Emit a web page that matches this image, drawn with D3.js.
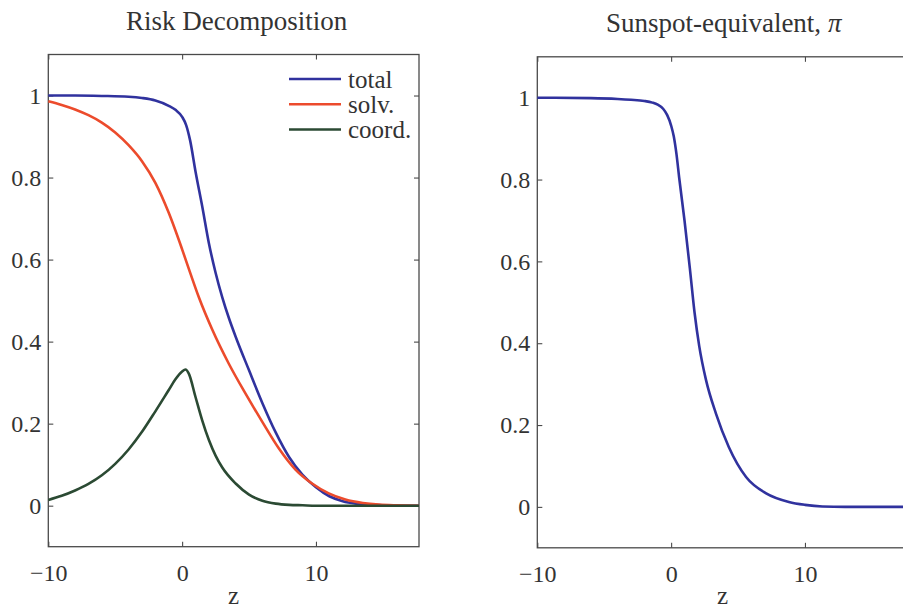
<!DOCTYPE html>
<html>
<head>
<meta charset="utf-8">
<script src="https://cdn.jsdelivr.net/npm/d3@7"></script>
<style>
  html, body { margin: 0; padding: 0; background: #fff; }
  svg { display: block; }
  text { font-family: "Liberation Serif", "Times New Roman", serif; fill: #333; }
</style>
</head>
<body>
<svg id="chart" width="903" height="608"></svg>
<script>
// ---------------- data ----------------
const zTotal = [-10, -8, -6, -4, -3, -2, -1, -0.5, 0, 0.3, 0.6, 1.0, 1.5, 2.0, 2.5, 3.0, 3.5, 4.0, 5.0, 6.0, 7.0, 8.0, 9.0, 10.0, 11.0, 12.0, 13.0, 14.0, 15.0, 16.0, 17.7];
const total  = [1.000, 1.000, 0.999, 0.997, 0.994, 0.988, 0.975, 0.965, 0.948, 0.928, 0.890, 0.815, 0.730, 0.640, 0.568, 0.508, 0.457, 0.412, 0.330, 0.250, 0.178, 0.118, 0.075, 0.045, 0.023, 0.011, 0.005, 0.002, 0.001, 0.000, 0.000];

const zSolv = [-10, -9, -8, -7, -6, -5, -4, -3, -2, -1, 0, 0.63, 1.25, 2.24, 3.49, 4.74, 5.98, 7.22, 8.47, 9.71, 10.96, 12.2, 13.5, 14.7, 16.0, 17.7];
const solv  = [0.986, 0.977, 0.966, 0.952, 0.934, 0.910, 0.879, 0.840, 0.787, 0.714, 0.625, 0.565, 0.508, 0.430, 0.346, 0.273, 0.205, 0.140, 0.088, 0.054, 0.030, 0.015, 0.0065, 0.0025, 0.0008, 0.000];

const zCoord = [-10, -9, -8, -7, -6, -5, -4, -3, -2, -1, -0.5, 0, 0.25, 0.5, 1.0, 1.5, 2.0, 2.5, 3.0, 4.0, 5.0, 6.0, 7.0, 8.0, 9.0, 10.0, 12.0, 17.7];
const coord  = [0.014, 0.024, 0.037, 0.053, 0.074, 0.102, 0.137, 0.180, 0.230, 0.282, 0.308, 0.327, 0.332, 0.322, 0.265, 0.208, 0.160, 0.122, 0.093, 0.054, 0.027, 0.012, 0.005, 0.002, 0.001, 0.000, 0.000, 0.000];

const zPi = [-10, -6, -4, -3, -2, -1.4, -1, -0.6, -0.3, 0, 0.2, 0.4, 0.6, 1.0, 1.4, 1.75, 2.1, 2.6, 3.35, 4.3, 5.6, 7.1, 8.8, 10, 11.3, 13, 17.7];
const pi  = [1.000, 0.999, 0.997, 0.995, 0.992, 0.988, 0.983, 0.973, 0.958, 0.932, 0.905, 0.862, 0.805, 0.700, 0.583, 0.475, 0.393, 0.311, 0.228, 0.147, 0.073, 0.033, 0.012, 0.005, 0.001, 0.000, 0.000];

const seriesNames = ["total", "solv.", "coord."];
const seriesColors = ["#30329e", "#ec4b2c", "#2b4a33"];

const xTickValues = [-10, 0, 10];
const xTickLabels = ["\u221210", "0", "10"];
const yTickValues = [0, 0.2, 0.4, 0.6, 0.8, 1];
const yTickLabels = ["0", "0.2", "0.4", "0.6", "0.8", "1"];

const titles = ["Risk Decomposition", "Sunspot-equivalent, "];
const xLabel = "z";

// ---------------- layout ----------------
const svg = d3.select("#chart");
const xDomain = [-10, 17.7];
const yDomain = [-0.1, 1.1];

const panels = [
  { left: 48.3, right: 419, top: 54.5, bottom: 546.7 },
  { left: 537.3, right: 908, top: 56.8, bottom: 547.8 }
];

function drawPanel(p, idx) {
  const x = d3.scaleLinear().domain(xDomain).range([p.left, p.right]);
  const y = d3.scaleLinear().domain(yDomain).range([p.bottom, p.top]);
  const g = svg.append("g");

  g.append("rect")
    .attr("x", p.left).attr("y", p.top)
    .attr("width", p.right - p.left).attr("height", p.bottom - p.top)
    .attr("fill", "none").attr("stroke", "#4a4a4a").attr("stroke-width", 1.3);

  const styleAxis = sel => {
    sel.select(".domain").remove();
    sel.selectAll(".tick line").attr("stroke", "#4a4a4a").attr("stroke-width", 1.1);
    sel.selectAll(".tick text")
      .style("font-family", '"Liberation Serif", serif')
      .style("font-size", "24px")
      .attr("fill", "#333");
  };

  g.append("g").attr("transform", `translate(0,${p.bottom})`)
    .call(d3.axisBottom(x).tickValues(xTickValues)
      .tickFormat((d, i) => xTickLabels[i]).tickSize(-5).tickSizeOuter(0).tickPadding(17))
    .call(styleAxis);
  g.append("g").attr("transform", `translate(0,${p.top})`)
    .call(d3.axisTop(x).tickValues(xTickValues).tickFormat("").tickSize(-5).tickSizeOuter(0))
    .call(styleAxis);
  g.append("g").attr("transform", `translate(${p.left},0)`)
    .call(d3.axisLeft(y).tickValues(yTickValues)
      .tickFormat((d, i) => yTickLabels[i]).tickSize(-5).tickSizeOuter(0).tickPadding(7))
    .call(styleAxis);
  g.append("g").attr("transform", `translate(${p.right},0)`)
    .call(d3.axisRight(y).tickValues(yTickValues).tickFormat("").tickSize(-5).tickSizeOuter(0))
    .call(styleAxis);

  const cx = (p.left + p.right) / 2;
  const t = g.append("text")
    .attr("x", cx + (idx === 0 ? 3 : 1)).attr("y", idx === 0 ? 30 : 32)
    .attr("text-anchor", "middle")
    .style("font-size", "27px")
    .text(titles[idx]);
  if (idx === 1) t.append("tspan").style("font-style", "italic").text("\u03c0");

  g.append("text")
    .attr("x", cx).attr("y", 604)
    .attr("text-anchor", "middle")
    .style("font-size", "25px")
    .text(xLabel);

  return { x, y, g };
}

const P0 = drawPanel(panels[0], 0);
const P1 = drawPanel(panels[1], 1);

function addLine(P, zs, vs, color) {
  const line = d3.line()
    .x((d, i) => P.x(zs[i]))
    .y(d => P.y(d))
    .curve(d3.curveMonotoneX);
  P.g.append("path")
    .datum(vs)
    .attr("d", line)
    .attr("fill", "none")
    .attr("stroke", color)
    .attr("stroke-width", 2.6)
    .attr("stroke-linejoin", "round");
}

addLine(P0, zTotal, total, seriesColors[0]);
addLine(P0, zSolv, solv, seriesColors[1]);
addLine(P0, zCoord, coord, seriesColors[2]);

addLine(P1, zPi, pi, seriesColors[0]);

const legendYs = [79, 104.3, 129.5];
seriesNames.forEach((name, i) => {
  const lg = P0.g.append("g");
  lg.append("line")
    .attr("x1", 289).attr("x2", 341)
    .attr("y1", legendYs[i]).attr("y2", legendYs[i])
    .attr("stroke", seriesColors[i]).attr("stroke-width", 2.6);
  lg.append("text")
    .attr("x", 348).attr("y", legendYs[i] + 8.5)
    .style("font-size", "25px")
    .text(name);
});
</script>
</body>
</html>
